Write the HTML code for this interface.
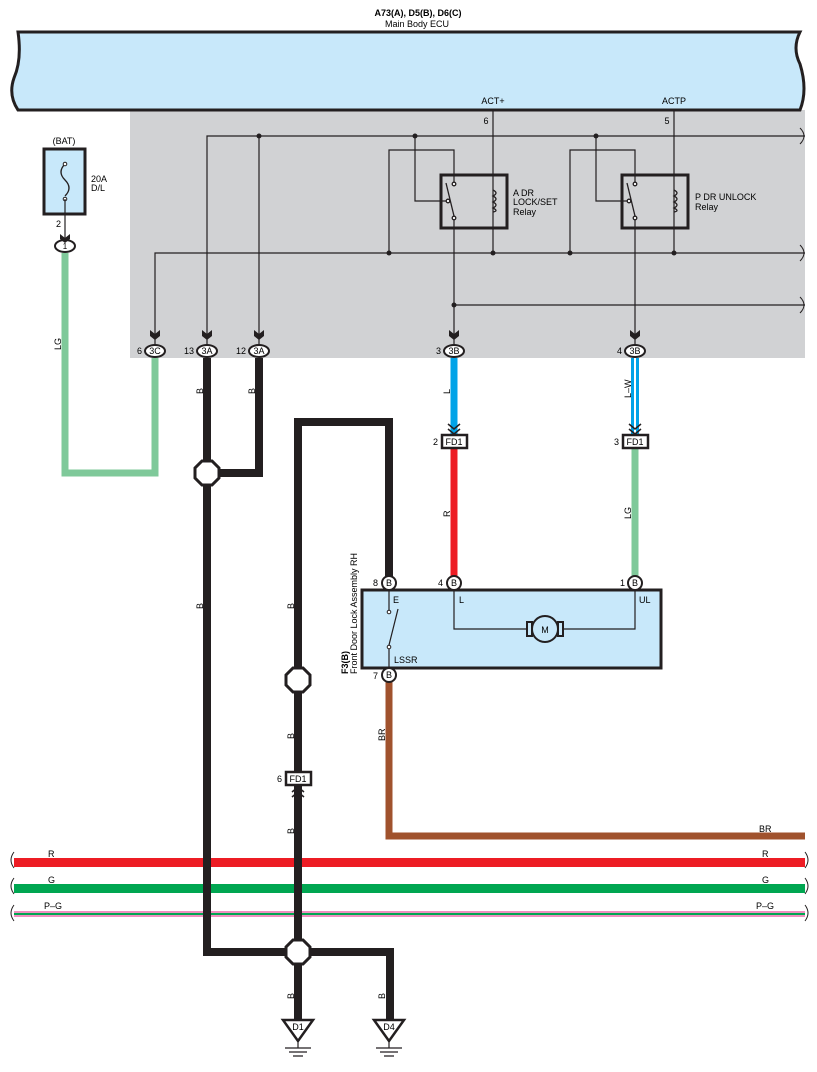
<!DOCTYPE html>
<html><head><meta charset="utf-8"><style>
html,body{margin:0;padding:0;background:#fff;}
svg{display:block;font-family:"Liberation Sans",sans-serif;}
</style></head><body>
<svg width="817" height="1072" viewBox="0 0 817 1072" xmlns="http://www.w3.org/2000/svg">
<!-- gray ECU interior -->
<rect x="130" y="110" width="675" height="248" fill="#d1d2d4"/>
<!-- ECU band -->
<path d="M18,32 H800 Q792,48 800,64 Q808,90 800,110 H18 Q8,95 14,78 Q22,60 18,32 Z" fill="#c8e8fa" stroke="#231f20" stroke-width="3"/>
<text x="418" y="16" font-size="9" font-weight="bold" text-anchor="middle">A73(A), D5(B), D6(C)</text>
<text x="385" y="27" font-size="9">Main Body ECU</text>
<text x="493" y="104" font-size="9" text-anchor="middle">ACT+</text>
<text x="674" y="104" font-size="9" text-anchor="middle">ACTP</text>
<text x="486" y="124" font-size="9" text-anchor="middle">6</text>
<text x="667" y="124" font-size="9" text-anchor="middle">5</text>

<g stroke="#231f20" stroke-width="1.2" fill="none">
<path d="M207,345 V136 H805"/>
<path d="M259,136 V345"/>
<path d="M155,345 V253 H805"/>
<path d="M454,305 H805"/>
<!-- relay1 -->
<path d="M493,110 V253"/>
<path d="M415,136 V201 H448"/>
<path d="M389,253 V150 H454 V184"/>
<path d="M454,218 V345"/>
<!-- relay2 -->
<path d="M674,110 V253"/>
<path d="M596,136 V201 H629"/>
<path d="M570,253 V150 H635 V184"/>
<path d="M635,218 V345"/>
<!-- wavy breaks right -->
<path d="M800,128 q8,8 0,16" stroke-width="1"/>
<path d="M800,245 q8,8 0,16" stroke-width="1"/>
<path d="M800,297 q8,8 0,16" stroke-width="1"/>
</g>
<g fill="#231f20">
<circle cx="259" cy="136" r="2.5"/><circle cx="415" cy="136" r="2.5"/><circle cx="596" cy="136" r="2.5"/>
<circle cx="389" cy="253" r="2.5"/><circle cx="493" cy="253" r="2.5"/><circle cx="570" cy="253" r="2.5"/><circle cx="674" cy="253" r="2.5"/>
<circle cx="454" cy="305" r="2.5"/>
</g>
<!-- relay boxes -->
<g>
<rect x="441" y="175" width="66" height="53" fill="none" stroke="#231f20" stroke-width="3"/>
<rect x="622" y="175" width="66" height="53" fill="none" stroke="#231f20" stroke-width="3"/>
<g stroke="#231f20" stroke-width="1.3" fill="#fff">
<line x1="446" y1="183" x2="454" y2="216"/><line x1="627" y1="183" x2="635" y2="216"/>
<circle cx="454" cy="184" r="1.8"/><circle cx="448" cy="201" r="1.8"/><circle cx="454" cy="218" r="1.8"/>
<circle cx="635" cy="184" r="1.8"/><circle cx="629" cy="201" r="1.8"/><circle cx="635" cy="218" r="1.8"/>
<path d="M493,190 q6,3 0,6 q6,3 0,6 q6,3 0,6 q6,3 0,4" fill="none"/>
<path d="M674,190 q6,3 0,6 q6,3 0,6 q6,3 0,6 q6,3 0,4" fill="none"/>
</g>
<text x="513" y="196" font-size="9">A DR</text><text x="513" y="205" font-size="9">LOCK/SET</text><text x="513" y="215" font-size="9">Relay</text>
<text x="695" y="200" font-size="9">P DR UNLOCK</text><text x="695" y="210" font-size="9">Relay</text>
</g>

<!-- fuse -->
<text x="64" y="144" font-size="9" text-anchor="middle">(BAT)</text>
<rect x="44" y="149" width="41" height="65" fill="#c8e8fa" stroke="#231f20" stroke-width="3"/>
<path d="M65,164 q-8,8 0,16 q8,8 0,16" fill="none" stroke="#231f20" stroke-width="1.3"/>
<circle cx="65" cy="164" r="1.8" fill="#fff" stroke="#231f20"/><circle cx="65" cy="199" r="1.8" fill="#fff" stroke="#231f20"/>
<line x1="65" y1="199" x2="65" y2="240" stroke="#231f20" stroke-width="1.2"/>
<text x="91" y="182" font-size="9">20A</text><text x="91" y="191" font-size="9">D/L</text>
<text x="56" y="227" font-size="9">2</text>

<!-- thick wires -->
<g fill="none" stroke-linejoin="miter">
<path d="M65,253 V473 H155 V358" stroke="#7fc99a" stroke-width="7"/>
<path d="M207,358 V952 H390 V1022" stroke="#231f20" stroke-width="8"/>
<path d="M259,358 V473 H207" stroke="#231f20" stroke-width="8"/>
<path d="M298,1022 V952" stroke="#231f20" stroke-width="8"/>
<path d="M298,952 V422 H389 V580" stroke="#231f20" stroke-width="8"/>
<path d="M454,358 V436" stroke="#00a3e8" stroke-width="7"/>
<path d="M454,448 V580" stroke="#ed1c24" stroke-width="7"/>
<path d="M635,358 V436" stroke="#00a3e8" stroke-width="8"/>
<path d="M635,358 V436" stroke="#fff" stroke-width="2"/>
<path d="M635,448 V580" stroke="#7fc99a" stroke-width="7"/>
<path d="M389,676 V836 H805" stroke="#a0522d" stroke-width="7"/>
</g>
<!-- harness -->
<rect x="14" y="858" width="791" height="9" fill="#ed1c24"/>
<rect x="14" y="884" width="791" height="9" fill="#00a651"/>
<rect x="14" y="911" width="791" height="2" fill="#ef8fbf"/>
<rect x="14" y="913" width="791" height="2" fill="#00a651"/>
<rect x="14" y="915" width="791" height="2" fill="#ef8fbf"/>
<path d="M207,852 V925 M298,852 V925" stroke="#231f20" stroke-width="8"/>
<g fill="none" stroke="#231f20" stroke-width="1"><path d="M14,852 q-6,8 0,16 M14,878 q-6,8 0,16 M14,905 q-6,8 0,16 M805,852 q6,8 0,16 M805,878 q6,8 0,16 M805,905 q6,8 0,16"/></g>
<g font-size="9">
<text x="48" y="857">R</text><text x="48" y="883">G</text><text x="44" y="909">P–G</text>
<text x="762" y="857">R</text><text x="762" y="883">G</text><text x="756" y="909">P–G</text><text x="759" y="832">BR</text>
</g>

<!-- splices -->
<g fill="#fff" stroke="#231f20" stroke-width="3">
<polygon points="202,461 212,461 219,468 219,478 212,485 202,485 195,478 195,468"/>
<polygon points="293,668 303,668 310,675 310,685 303,692 293,692 286,685 286,675"/>
<polygon points="293,940 303,940 310,947 310,957 303,964 293,964 286,957 286,947"/>
</g>

<!-- ECU connectors -->
<g font-size="9">
<g stroke="#231f20" stroke-width="2" fill="#fff">
<ellipse cx="65" cy="246" rx="10" ry="6"/>
<ellipse cx="155" cy="351" rx="10" ry="6"/><ellipse cx="207" cy="351" rx="10" ry="6"/><ellipse cx="259" cy="351" rx="10" ry="6"/>
<ellipse cx="454" cy="351" rx="10" ry="6"/><ellipse cx="635" cy="351" rx="10" ry="6"/>
</g>
<g fill="#231f20">
<path d="M60,234 l5,4 l5,-4 v5 l-5,4 l-5,-4z"/>
<path d="M150,330 l5,4 l5,-4 v6 l-5,4 l-5,-4z"/><path d="M202,330 l5,4 l5,-4 v6 l-5,4 l-5,-4z"/><path d="M254,330 l5,4 l5,-4 v6 l-5,4 l-5,-4z"/>
<path d="M449,330 l5,4 l5,-4 v6 l-5,4 l-5,-4z"/><path d="M630,330 l5,4 l5,-4 v6 l-5,4 l-5,-4z"/>
</g>
<text x="65" y="249" font-size="8" text-anchor="middle">1</text>
<text x="155" y="354" text-anchor="middle">3C</text><text x="207" y="354" text-anchor="middle">3A</text><text x="259" y="354" text-anchor="middle">3A</text>
<text x="454" y="354" text-anchor="middle">3B</text><text x="635" y="354" text-anchor="middle">3B</text>
<text x="137" y="354">6</text><text x="184" y="354">13</text><text x="236" y="354">12</text>
<text x="436" y="354">3</text><text x="617" y="354">4</text>
</g>

<!-- FD1 connectors -->
<g font-size="9">
<g fill="none" stroke="#231f20" stroke-width="1.5">
<path d="M448,424 l6,5 l6,-5 M448,429 l6,5 l6,-5"/>
<path d="M629,424 l6,5 l6,-5 M629,429 l6,5 l6,-5"/>
<path d="M292,797 l6,-5 l6,5 M292,792 l6,-5 l6,5"/>
</g>
<g fill="#fff" stroke="#231f20" stroke-width="2.5">
<rect x="442" y="435" width="25" height="13"/><rect x="623" y="435" width="25" height="13"/><rect x="286" y="772" width="25" height="13"/>
</g>
<text x="454" y="445" text-anchor="middle">FD1</text><text x="635" y="445" text-anchor="middle">FD1</text><text x="298" y="782" text-anchor="middle">FD1</text>
<text x="433" y="445">2</text><text x="614" y="445">3</text><text x="277" y="782">6</text>
</g>

<!-- door lock assembly -->
<rect x="362" y="590" width="299" height="78" fill="#c8e8fa" stroke="#231f20" stroke-width="3"/>
<g stroke="#231f20" stroke-width="1.2" fill="none">
<path d="M389,590 V612 M389,647 V668"/>
<line x1="389" y1="645" x2="398" y2="609"/>
<path d="M454,590 V629 H527 M563,629 H635 V590"/>
</g>
<circle cx="389" cy="612" r="1.8" fill="#fff" stroke="#231f20"/><circle cx="389" cy="647" r="1.8" fill="#fff" stroke="#231f20"/>
<rect x="527" y="622" width="5" height="14" fill="none" stroke="#231f20" stroke-width="2"/>
<rect x="558" y="622" width="5" height="14" fill="none" stroke="#231f20" stroke-width="2"/>
<circle cx="545" cy="629" r="13" fill="#c8e8fa" stroke="#231f20" stroke-width="2"/>
<text x="545" y="633" font-size="9" text-anchor="middle">M</text>
<g font-size="9">
<text x="393" y="603">E</text><text x="394" y="663">LSSR</text><text x="459" y="603">L</text><text x="639" y="603">UL</text>
</g>
<g stroke="#231f20" stroke-width="2" fill="#fff">
<circle cx="389" cy="583" r="7"/><circle cx="454" cy="583" r="7"/><circle cx="635" cy="583" r="7"/><circle cx="389" cy="675" r="7"/>
</g>
<g font-size="9">
<text x="389" y="586" text-anchor="middle">B</text><text x="454" y="586" text-anchor="middle">B</text><text x="635" y="586" text-anchor="middle">B</text><text x="389" y="678" text-anchor="middle">B</text>
<text x="373" y="586">8</text><text x="438" y="586">4</text><text x="620" y="586">1</text><text x="373" y="679">7</text>
<text transform="translate(348,674) rotate(-90)" font-weight="bold">F3(B)</text>
<text transform="translate(357,674) rotate(-90)">Front Door Lock Assembly RH</text>
</g>

<!-- wire labels (rotated) -->
<g font-size="9">
<text transform="translate(61,350) rotate(-90)">LG</text>
<text transform="translate(203,394) rotate(-90)">B</text>
<text transform="translate(255,394) rotate(-90)">B</text>
<text transform="translate(203,609) rotate(-90)">B</text>
<text transform="translate(294,609) rotate(-90)">B</text>
<text transform="translate(294,739) rotate(-90)">B</text>
<text transform="translate(294,834) rotate(-90)">B</text>
<text transform="translate(294,999) rotate(-90)">B</text>
<text transform="translate(385,999) rotate(-90)">B</text>
<text transform="translate(450,394) rotate(-90)">L</text>
<text transform="translate(450,517) rotate(-90)">R</text>
<text transform="translate(631,398) rotate(-90)">L–W</text>
<text transform="translate(631,519) rotate(-90)">LG</text>
<text transform="translate(385,741) rotate(-90)">BR</text>
</g>

<!-- grounds -->
<g stroke="#231f20" fill="#fff">
<polygon points="283,1020 313,1020 298,1041" stroke-width="2.5"/>
<polygon points="374,1020 404,1020 389,1041" stroke-width="2.5"/>
<path d="M298,1041 V1048 M285,1048 H311 M289,1052 H307 M293,1056 H303" stroke-width="1.2"/>
<path d="M389,1041 V1048 M376,1048 H402 M380,1052 H398 M384,1056 H394" stroke-width="1.2"/>
</g>
<text x="298" y="1030" font-size="9" text-anchor="middle">D1</text>
<text x="389" y="1030" font-size="9" text-anchor="middle">D4</text>
</svg>
</body></html>
